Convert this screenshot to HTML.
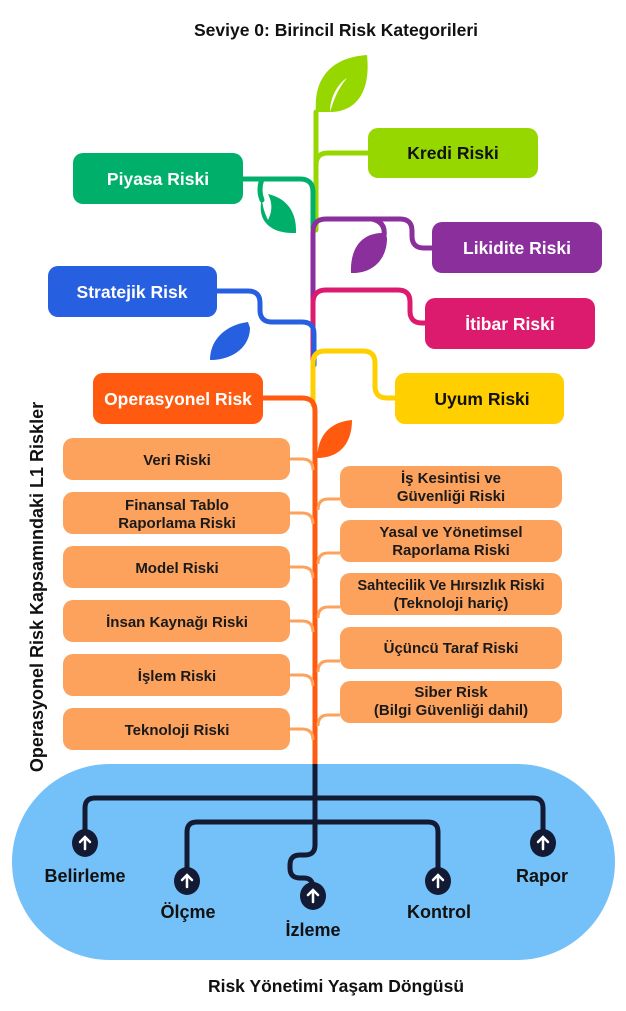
<!DOCTYPE html>
<html><head><meta charset="utf-8"><style>
body{margin:0;background:#fff;}
svg{display:block;font-family:"Liberation Sans",sans-serif;font-weight:bold;}
</style></head><body>
<svg width="626" height="1011" viewBox="0 0 626 1011" xmlns="http://www.w3.org/2000/svg">
<text x="336" y="36" font-size="17.5" text-anchor="middle" fill="#111">Seviye 0: Birincil Risk Kategorileri</text>

<rect x="12" y="764" width="603" height="196" rx="98" fill="#74c0f8"/>

<g fill="none" stroke-width="5" stroke-linecap="round">
<path d="M316 112 V230" stroke="#97d700"/>
<path d="M316 165 Q316 153 328 153 H370" stroke="#97d700"/>
<path d="M243 179 H300 Q313 179 313 192 V228" stroke="#00b06a"/>
<path d="M262 179 Q258 190 262 200" stroke="#00b06a"/>
<path d="M313 300 V232 Q313 219 326 219 H400 Q412 219 412 231 V236 Q412 248 424 248 H434" stroke="#8a2f9c"/>
<path d="M372 219 Q386 222 384 236" stroke="#8a2f9c"/>
<path d="M313 360 V303 Q313 290 326 290 H398 Q410 290 410 302 V311 Q410 323 422 323 H427" stroke="#dc1b6e"/>
<path d="M217 291 H248 Q260 291 260 303 V310 Q260 322 272 322 H302 Q314 322 314 334 V365" stroke="#265fe0"/>
<path d="M313 405 V363 Q313 351 325 351 H363 Q375 351 375 363 V386 Q375 398 387 398 H397" stroke="#ffcf00"/>
<path d="M263 398 H302 Q315 398 315 411 V770" stroke="#ff5a10"/>
</g>

<g fill="none" stroke="#fda25d" stroke-width="3">
<path d="M290 459 H302 Q313 459 313 470"/>
<path d="M290 513 H302 Q313 513 313 524"/>
<path d="M290 567 H302 Q313 567 313 578"/>
<path d="M290 621 H302 Q313 621 313 632"/>
<path d="M290 675 H302 Q313 675 313 686"/>
<path d="M290 729 H302 Q313 729 313 740"/>
<path d="M340 499 H328 Q318 499 318 510"/>
<path d="M340 553 H328 Q318 553 318 564"/>
<path d="M340 607 H328 Q318 607 318 618"/>
<path d="M340 661 H328 Q318 661 318 672"/>
<path d="M340 715 H328 Q318 715 318 726"/>
</g>

<path d="M316 112 C313 75 335 57 367 55 C371 92 356 112 330 112 Z" fill="#97d700"/>
<path d="M330 112 C330 95 340 82 347 78 C337 90 334 100 330 112Z" fill="#fff"/>
<path d="M262 198 C256 222 272 234 296 233 C297 210 285 198 268 194 C273 204 272 212 268 220 C264 212 262 204 262 198Z" fill="#00b06a"/>
<path d="M385 233 C360 232 350 250 351 273 C372 274 387 260 387 238 Z" fill="#8a2f9c"/>
<path d="M248 322 C225 325 210 340 210 360 C235 360 250 345 250 328 Z" fill="#265fe0"/>
<path d="M352 420 C330 422 318 435 317 458 C340 458 352 443 352 420 Z" fill="#ff5a10"/>

<g font-size="17.5" text-anchor="middle">
<rect x="368" y="128" width="170" height="50" rx="10" fill="#97d700"/><text x="453" y="159" fill="#111">Kredi Riski</text>
<rect x="73" y="153" width="170" height="51" rx="10" fill="#00b06a"/><text x="158" y="185" fill="#fff">Piyasa Riski</text>
<rect x="432" y="222" width="170" height="51" rx="10" fill="#8a2f9c"/><text x="517" y="254" fill="#fff">Likidite Riski</text>
<rect x="48" y="266" width="169" height="51" rx="10" fill="#265fe0"/><text x="132" y="298" fill="#fff">Stratejik Risk</text>
<rect x="425" y="298" width="170" height="51" rx="10" fill="#dc1b6e"/><text x="510" y="330" fill="#fff">İtibar Riski</text>
<rect x="93" y="373" width="170" height="51" rx="10" fill="#ff5a10"/><text x="178" y="405" fill="#fff">Operasyonel Risk</text>
<rect x="395" y="373" width="169" height="51" rx="10" fill="#ffcf00"/><text x="482" y="405" fill="#111">Uyum Riski</text>
</g>

<g fill="#fda25d">
<rect x="63" y="438" width="227" height="42" rx="10"/>
<rect x="63" y="492" width="227" height="42" rx="10"/>
<rect x="63" y="546" width="227" height="42" rx="10"/>
<rect x="63" y="600" width="227" height="42" rx="10"/>
<rect x="63" y="654" width="227" height="42" rx="10"/>
<rect x="63" y="708" width="227" height="42" rx="10"/>
<rect x="340" y="466" width="222" height="42" rx="10"/>
<rect x="340" y="520" width="222" height="42" rx="10"/>
<rect x="340" y="573" width="222" height="42" rx="10"/>
<rect x="340" y="627" width="222" height="42" rx="10"/>
<rect x="340" y="681" width="222" height="42" rx="10"/>
</g>
<g font-size="15" text-anchor="middle" fill="#1a1a1a">
<text x="177" y="465">Veri Riski</text>
<text x="177" y="510">Finansal Tablo</text><text x="177" y="528">Raporlama Riski</text>
<text x="177" y="573">Model Riski</text>
<text x="177" y="627">İnsan Kaynağı Riski</text>
<text x="177" y="681">İşlem Riski</text>
<text x="177" y="735">Teknoloji Riski</text>
<text x="451" y="483">İş Kesintisi ve</text><text x="451" y="501">Güvenliği Riski</text>
<text x="451" y="537">Yasal ve Yönetimsel</text><text x="451" y="555">Raporlama Riski</text>
<text x="451" y="590" font-size="14.5">Sahtecilik Ve Hırsızlık Riski</text><text x="451" y="608">(Teknoloji hariç)</text>
<text x="451" y="653">Üçüncü Taraf Riski</text>
<text x="451" y="697">Siber Risk</text><text x="451" y="715">(Bilgi Güvenliği dahil)</text>
</g>

<text transform="translate(43,587) rotate(-90)" font-size="18" text-anchor="middle" fill="#111">Operasyonel Risk Kapsamındaki L1 Riskler</text>

<g fill="none" stroke="#131a33" stroke-width="5">
<path d="M315 764 V845 Q315 855 305 855 H300 Q290 855 290 865 V868 Q290 878 300 878 H304 Q313 878 313 888"/>
<path d="M85 843 V808 Q85 798 95 798 H533 Q543 798 543 808 V843"/>
<path d="M187 881 V832 Q187 822 197 822 H428 Q438 822 438 832 V881"/>
</g>
<g fill="#131a33">
<ellipse cx="85" cy="843" rx="13" ry="14"/>
<ellipse cx="187" cy="881" rx="13" ry="14"/>
<ellipse cx="313" cy="896" rx="13" ry="14"/>
<ellipse cx="438" cy="881" rx="13" ry="14"/>
<ellipse cx="543" cy="843" rx="13" ry="14"/>
</g>
<g stroke="#fff" stroke-width="2.5" fill="none" stroke-linecap="round">
<path d="M85 849 V838 M80 842 L85 837 L90 842"/>
<path d="M187 887 V876 M182 880 L187 875 L192 880"/>
<path d="M313 902 V891 M308 895 L313 890 L318 895"/>
<path d="M438 887 V876 M433 880 L438 875 L443 880"/>
<path d="M543 849 V838 M538 842 L543 837 L548 842"/>
</g>
<g font-size="18" text-anchor="middle" fill="#111">
<text x="85" y="882">Belirleme</text>
<text x="188" y="918">Ölçme</text>
<text x="313" y="936">İzleme</text>
<text x="439" y="918">Kontrol</text>
<text x="542" y="882">Rapor</text>
</g>
<text x="336" y="992" font-size="17.5" text-anchor="middle" fill="#111">Risk Yönetimi Yaşam Döngüsü</text>
</svg>
</body></html>
